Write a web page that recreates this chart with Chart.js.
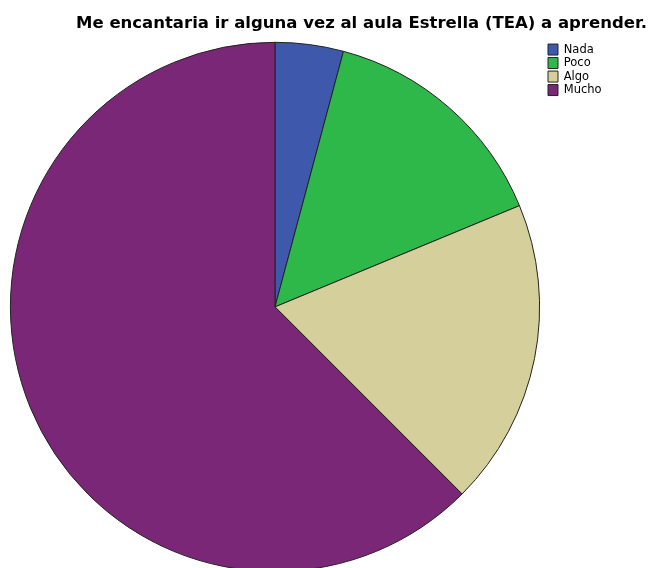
<!DOCTYPE html>
<html>
<head>
<meta charset="utf-8">
<script src="https://cdn.jsdelivr.net/npm/chart.js@4.4.0/dist/chart.umd.min.js"></script>
<style>
  html, body { margin: 0; padding: 0; background: #fff; overflow: hidden; }
  #wrap { width: 650px; height: 572px; }
</style>
</head>
<body>
<div id="wrap"><canvas id="pie-chart"></canvas></div>
<script>
const chartTitle = "Me encantaria ir alguna vez al aula Estrella (TEA) a aprender.";
const categories = ["Nada", "Poco", "Algo", "Mucho"];
const counts = [2, 7, 9, 30];
const sliceColors = ["#3e59ab", "#2fb84a", "#d5cf9b", "#7b2778"];

// keep the legend column a fixed width so the pie sits where it should
const legendWidth = {
  id: 'legendWidth',
  beforeUpdate(chart) {
    const lg = chart.legend;
    if (lg && !lg._fixedWidth) {
      const fit = lg.fit;
      lg.fit = function () { fit.call(this); this.width = 101; };
      lg._fixedWidth = true;
    }
  }
};

new Chart(document.getElementById("pie-chart"), {
  type: 'pie',
  data: {
    labels: categories,
    datasets: [{
      data: counts,
      backgroundColor: sliceColors,
      borderColor: "#222",
      borderWidth: 1
    }]
  },
  options: {
    responsive: true,
    maintainAspectRatio: false,
    animation: false,
    layout: { padding: { left: 4, right: 3, top: 0, bottom: 0 } },
    plugins: {
      title: {
        display: true,
        text: chartTitle,
        align: 'end',
        color: "#000",
        font: { family: "DejaVu Sans", size: 16.5, weight: 'bold' },
        padding: { top: 14, bottom: 8 }
      },
      legend: {
        position: 'right',
        align: 'start',
        fullSize: false,
        labels: {
          boxWidth: 10,
          boxHeight: 11,
          padding: 2,
          color: "#000",
          font: { family: "DejaVu Sans", size: 11.5 }
        }
      },
      tooltip: { enabled: false }
    }
  },
  plugins: [legendWidth]
});
</script>
</body>
</html>
